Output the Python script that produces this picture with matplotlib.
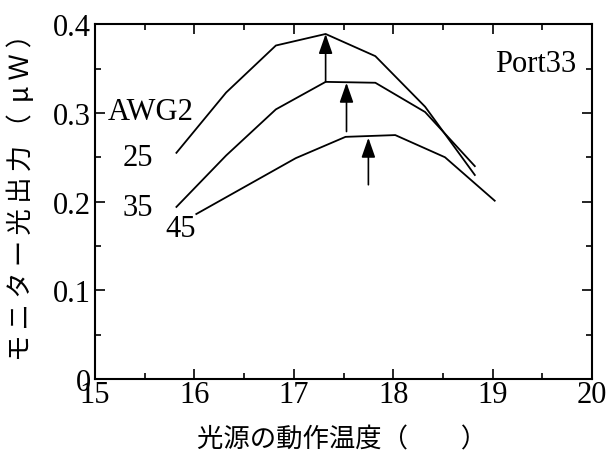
import matplotlib
matplotlib.use('Agg')
import matplotlib.pyplot as plt
from matplotlib.ticker import MultipleLocator, FuncFormatter

## データ（AWG2の各温度設定）
x_25 = [15.82, 16.32, 16.82, 17.32, 17.82, 18.32, 18.82]
y_25 = [0.255, 0.323, 0.376, 0.389, 0.364, 0.307, 0.230]
x_35 = [15.82, 16.32, 16.82, 17.32, 17.82, 18.32, 18.82]
y_35 = [0.194, 0.252, 0.304, 0.335, 0.334, 0.301, 0.240]
x_45 = [16.02, 17.02, 17.52, 18.02, 18.52, 19.02]
y_45 = [0.186, 0.249, 0.273, 0.275, 0.250, 0.201]

## 矢印（x, 下端, 先端）
arrow_x = [17.32, 17.53, 17.75]
arrow_y0 = [0.335, 0.279, 0.219]
arrow_y1 = [0.389, 0.334, 0.272]

serif = 'Liberation Serif'
jp = ['Noto Sans CJK JP', 'DejaVu Sans']

fig = plt.figure(figsize=(6.08, 4.56), dpi=100)
ax = fig.add_axes([0.156, 0.1667, 0.818, 0.778])

for xs, ys in [(x_25, y_25), (x_35, y_35), (x_45, y_45)]:
    ax.plot(xs, ys, color='black', lw=1.3)

for xa, ya, yb in zip(arrow_x, arrow_y0, arrow_y1):
    ax.annotate('', xy=(xa, yb), xytext=(xa, ya),
                arrowprops=dict(arrowstyle='-|>,head_length=1.2,head_width=0.42',
                                mutation_scale=10, color='black', lw=1.2,
                                shrinkA=0, shrinkB=0))

ax.set_xlim(15, 20)
ax.set_ylim(0, 0.4)
ax.xaxis.set_major_locator(MultipleLocator(1))
ax.xaxis.set_minor_locator(MultipleLocator(0.5))
ax.yaxis.set_major_locator(MultipleLocator(0.1))
ax.yaxis.set_minor_locator(MultipleLocator(0.05))
ax.yaxis.set_major_formatter(FuncFormatter(lambda v, p: '0' if v == 0 else '%.1f' % v))
ax.tick_params(which='both', direction='in', top=True, right=True, width=1.2)
ax.tick_params(axis='x', which='major', length=7, pad=1)
ax.tick_params(axis='y', which='major', length=7, pad=3)
ax.tick_params(which='minor', length=4.5)
for lab in ax.get_xticklabels() + ax.get_yticklabels():
    lab.set_fontfamily(serif)
    lab.set_fontsize(22)
for s in ax.spines.values():
    s.set_linewidth(1.5)

def pix(px, py, s, **kw):
    fig.text(px / 608, 1 - py / 456, s, fontsize=22, family=serif, ha='center', va='center', **kw)
pix(151, 113, 'AWG2')
pix(138, 159, '25')
pix(138, 209, '35')
pix(181, 230, '45')
pix(536, 65, 'Port33')

ylab = '\u2009'.join('モニター光出力（') + '\u2009 μ Ｗ ）'
fig.text(21 / 608, 1 - 191 / 456, ylab, family=jp, fontsize=19,
         rotation=90, ha='center', va='center')
fig.text(342 / 608, 1 - 440 / 456, '光源の動作温度（　　）', family=jp, fontsize=19,
         ha='center', va='center')

fig.savefig('out.png', dpi=100)
